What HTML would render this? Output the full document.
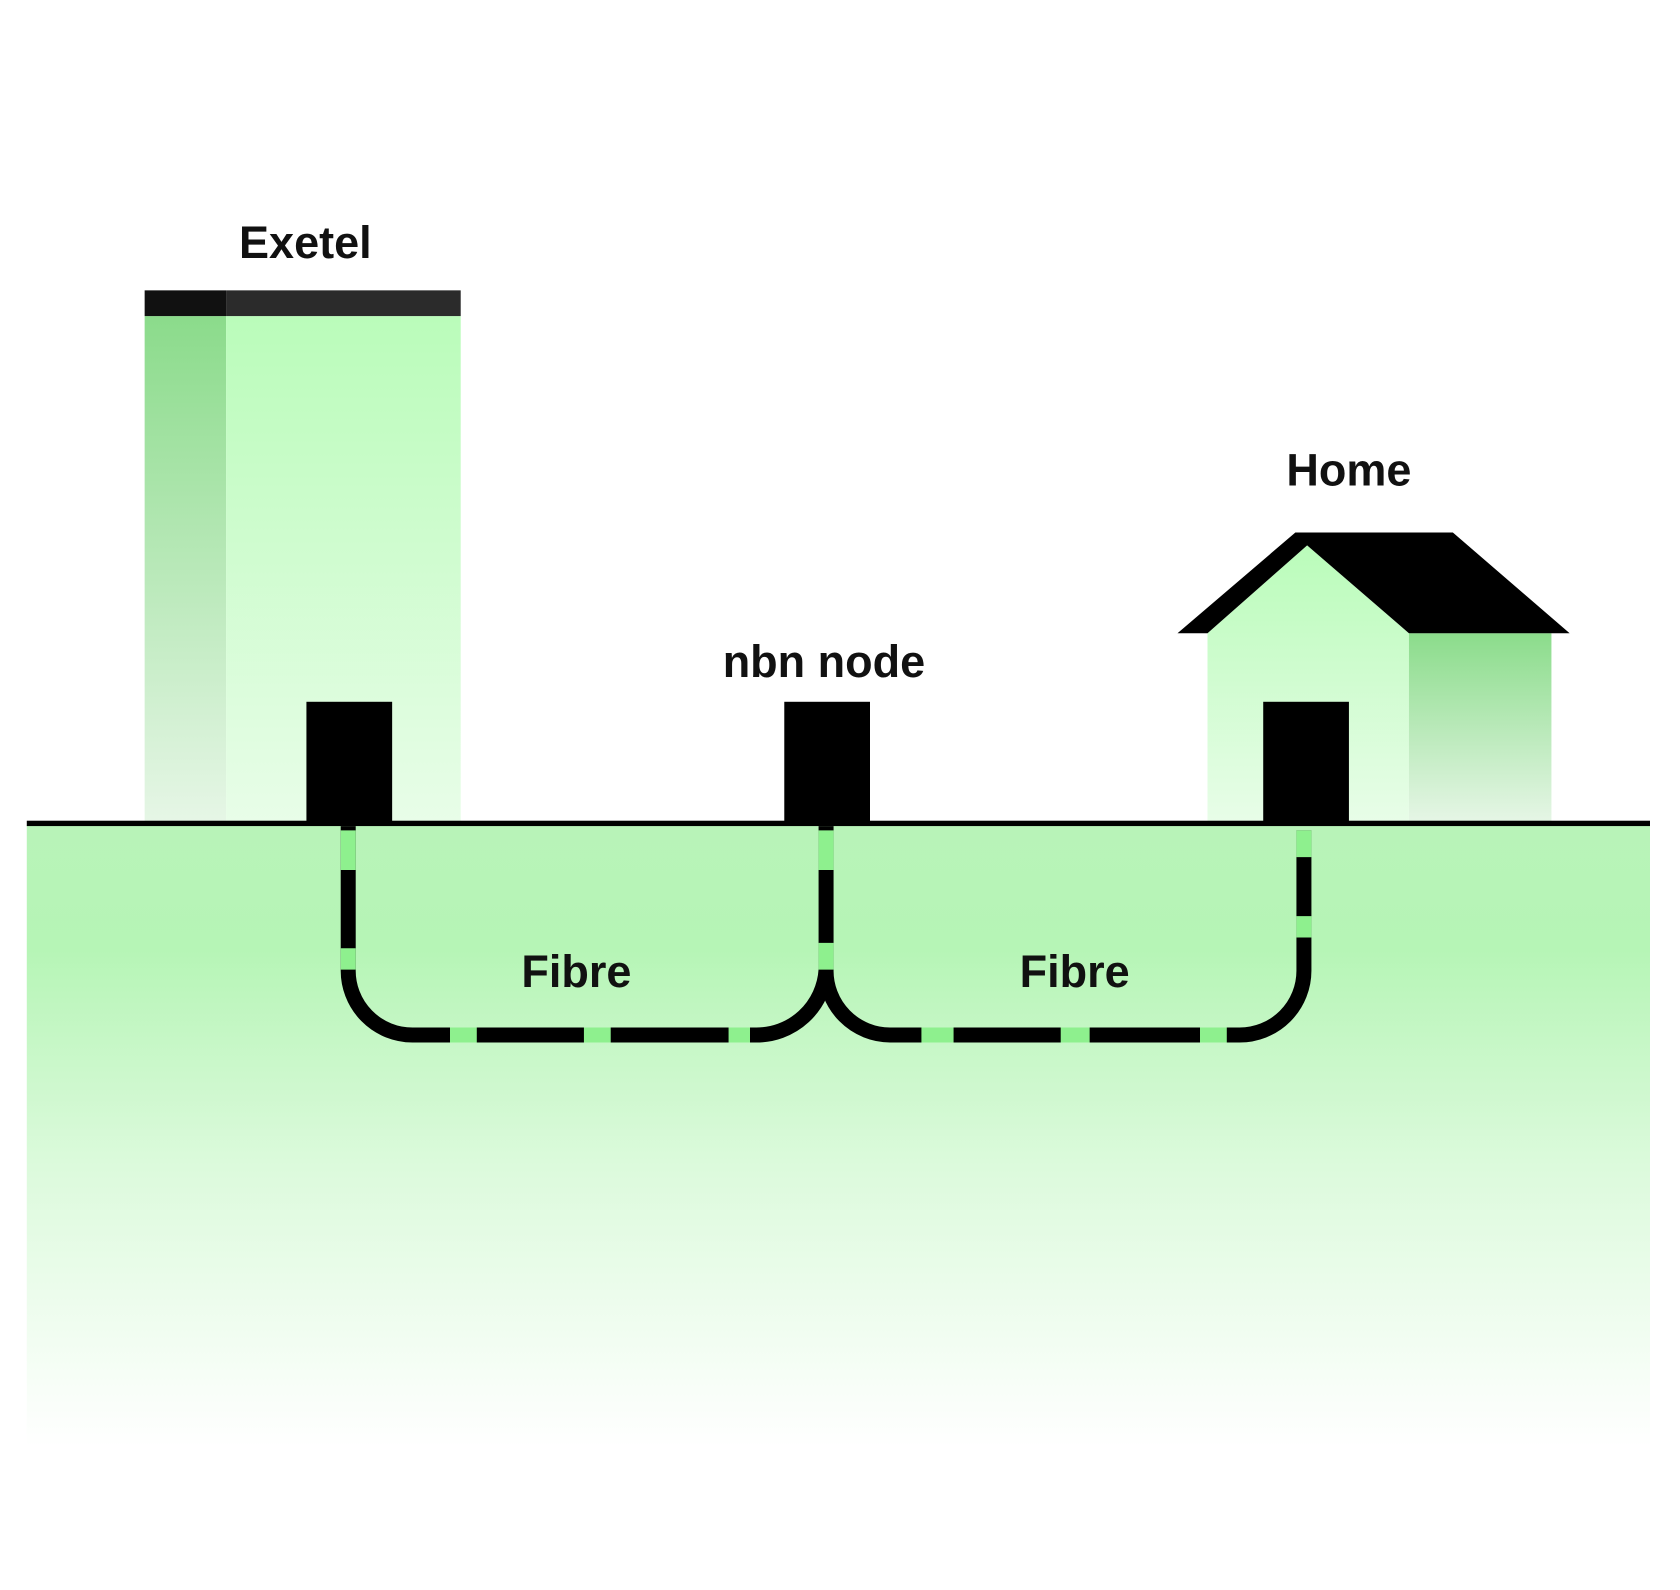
<!DOCTYPE html>
<html><head><style>html,body{margin:0;padding:0;background:#fff}svg{display:block}</style></head>
<body>
<svg width="1680" height="1590" viewBox="0 0 1568 1484" preserveAspectRatio="none" xmlns="http://www.w3.org/2000/svg">
<defs>
<linearGradient id="g1" x1="0" y1="0" x2="0" y2="1"><stop offset="0" stop-color="#8bdb8b"/><stop offset="1" stop-color="#e6f6e6"/></linearGradient>
<linearGradient id="g2" x1="0" y1="0" x2="0" y2="1"><stop offset="0" stop-color="#bafcba"/><stop offset="1" stop-color="#e8fde8"/></linearGradient>
<linearGradient id="g3" x1="0" y1="0" x2="0" y2="1"><stop offset="0" stop-color="#8bdc8b"/><stop offset="1" stop-color="#e6f6e6"/></linearGradient>
<linearGradient id="gg" x1="0" y1="0" x2="0" y2="1"><stop offset="0" stop-color="#b8f3b8"/><stop offset="0.2" stop-color="#b6f5b6"/><stop offset="0.55" stop-color="#dcfadc"/><stop offset="1" stop-color="#ffffff"/></linearGradient>
</defs>
<rect x="25" y="770" width="1515" height="580" fill="url(#gg)"/>
<rect x="135" y="295" width="76" height="473" fill="url(#g1)"/>
<rect x="211" y="295" width="219" height="473" fill="url(#g2)"/>
<rect x="135" y="271" width="76" height="24" fill="#111"/>
<rect x="211" y="271" width="219" height="24" fill="#2b2b2b"/>
<polygon points="1127,591 1220,509 1315,591 1315,768 1127,768" fill="url(#g2)"/>
<rect x="1315" y="591" width="133" height="177" fill="url(#g3)"/>
<polygon points="1099,591 1127,591 1220,509 1315,591 1465,591 1356,497 1209,497" fill="#000"/>
<rect x="286" y="655" width="80" height="113" fill="#000"/>
<rect x="732" y="655" width="80" height="113" fill="#000"/>
<rect x="1179" y="655" width="80" height="113" fill="#000"/>
<rect x="25" y="766" width="1515" height="5" fill="#000"/>
<g fill="none" stroke-width="14">
<path d="M325,771 V905 A60,60 0 0 0 385,966 H705 A65,65 0 0 0 771,905 V771" stroke="#000"/>
<path d="M771,905 A60,60 0 0 0 831,966 H1157 A60,60 0 0 0 1217,906 V775" stroke="#000"/>
<g stroke="#8ef08e">
<path d="M325,775 V812"/><path d="M325,885 V905"/>
<path d="M771,775 V812"/><path d="M771,880 V905"/>
<path d="M1217,775 V800"/><path d="M1217,855 V875"/>
<path d="M420,966 H445"/><path d="M545,966 H570"/><path d="M680,966 H700"/>
<path d="M860,966 H890"/><path d="M990,966 H1017"/><path d="M1120,966 H1145"/>
</g>
</g>
<g font-family="Liberation Sans, sans-serif" font-weight="bold" font-size="42" text-anchor="middle" fill="#111">
<text x="285" y="241">Exetel</text>
<text x="769" y="632">nbn node</text>
<text x="1259" y="453">Home</text>
<text x="538" y="921">Fibre</text>
<text x="1003" y="921">Fibre</text>
</g>
</svg>
</body></html>
